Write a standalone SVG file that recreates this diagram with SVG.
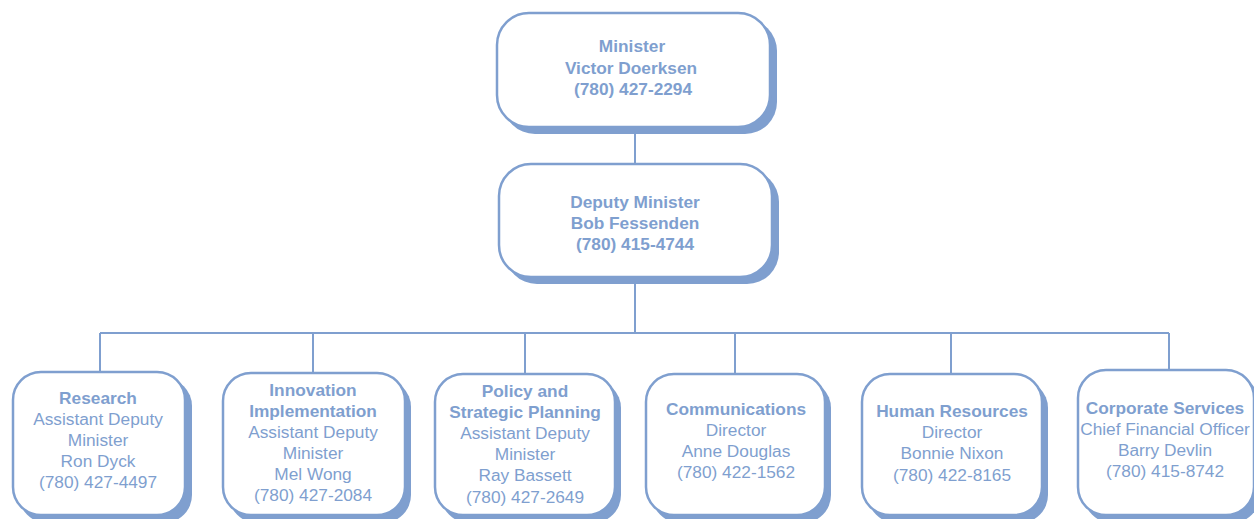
<svg xmlns="http://www.w3.org/2000/svg" width="1254" height="519" viewBox="0 0 1254 519">
<style>
.sh{fill:#7f9fcf;stroke:none}
.bx{fill:#ffffff;stroke:#7f9fcf;stroke-width:2.5}
.ln{stroke:#7f9fcf;stroke-width:2;fill:none}
text{font-family:"Liberation Sans",Arial,sans-serif;font-size:17.3px;fill:#7f9fcf;text-anchor:middle}
.b{font-weight:bold}
</style>
<rect width="1254" height="519" fill="#ffffff"/>
<g id="connectors">
<path class="ln" d="M635 128V164M635 283V333M100 333H1169M100 333V372M313 333V373M525 333V374M735 333V374M951 333V374M1169 333V370"/>
</g>
<g id="minister">
<rect class="sh" x="503" y="19" width="274" height="115" rx="32"/>
<rect class="bx" x="497" y="13" width="273" height="114" rx="32"/>
<text class="b" x="632" y="52">Minister</text>
<text class="b" x="631" y="74">Victor Doerksen</text>
<text class="b" x="633" y="95"> (780) 427-2294</text>
</g>
<g id="deputy">
<rect class="sh" x="505" y="170" width="274" height="114" rx="32"/>
<rect class="bx" x="499" y="164" width="273" height="113" rx="32"/>
<text class="b" x="635" y="208">Deputy Minister</text>
<text class="b" x="635" y="229">Bob Fessenden</text>
<text class="b" x="635" y="250">(780) 415-4744</text>
</g>
<g id="research">
<rect class="sh" x="19" y="378" width="173" height="145" rx="28"/>
<rect class="bx" x="13" y="372" width="172" height="143" rx="28"/>
<text class="b" x="98" y="404">Research</text>
<text x="98" y="425">Assistant Deputy</text>
<text x="98" y="446">Minister</text>
<text x="98" y="467">Ron Dyck</text>
<text x="98" y="488">(780) 427-4497</text>
</g>
<g id="innovation">
<rect class="sh" x="229" y="379" width="182" height="144" rx="28"/>
<rect class="bx" x="223" y="373" width="182" height="142" rx="28"/>
<text class="b" x="313" y="396">Innovation</text>
<text class="b" x="313" y="417">Implementation</text>
<text x="313" y="438">Assistant Deputy</text>
<text x="313" y="459">Minister</text>
<text x="313" y="480">Mel Wong</text>
<text x="313" y="501">(780) 427-2084</text>
</g>
<g id="policy">
<rect class="sh" x="441" y="380" width="180" height="143" rx="28"/>
<rect class="bx" x="435" y="374" width="180" height="141" rx="28"/>
<text class="b" x="525" y="397">Policy and</text>
<text class="b" x="525" y="418">Strategic Planning</text>
<text x="525" y="439">Assistant Deputy</text>
<text x="525" y="460">Minister</text>
<text x="525" y="481">Ray Bassett</text>
<text x="525" y="503">(780) 427-2649</text>
</g>
<g id="communications">
<rect class="sh" x="652" y="380" width="179" height="143" rx="28"/>
<rect class="bx" x="646" y="374" width="179" height="141" rx="28"/>
<text class="b" x="736" y="415">Communications</text>
<text x="736" y="436">Director</text>
<text x="736" y="457">Anne Douglas</text>
<text x="736" y="478">(780) 422-1562</text>
</g>
<g id="human-resources">
<rect class="sh" x="868" y="380" width="180" height="143" rx="28"/>
<rect class="bx" x="862" y="374" width="180" height="141" rx="28"/>
<text class="b" x="952" y="417">Human Resources</text>
<text x="952" y="438">Director</text>
<text x="952" y="459">Bonnie Nixon</text>
<text x="952" y="481">(780) 422-8165</text>
</g>
<g id="corporate">
<rect class="sh" x="1084" y="376" width="176" height="147" rx="28"/>
<rect class="bx" x="1078" y="370" width="176" height="145" rx="28"/>
<text class="b" x="1165" y="414">Corporate Services</text>
<text x="1165" y="435">Chief Financial Officer</text>
<text x="1165" y="456">Barry Devlin</text>
<text x="1165" y="477">(780) 415-8742</text>
</g>
</svg>
